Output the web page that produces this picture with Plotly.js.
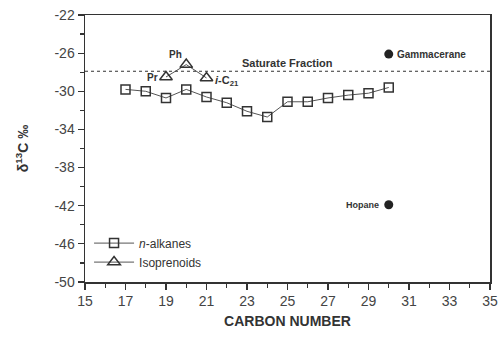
<!DOCTYPE html>
<html><head><meta charset="utf-8">
<script src="https://cdn.plot.ly/plotly-3.0.1.min.js"></script>
<style>html,body{margin:0;padding:0;background:#fff}#chart{width:500px;height:338px}</style>
</head><body><div id="chart"></div>
<script>
const alkaneC = [17,18,19,20,21,22,23,24,25,26,27,28,29,30];
const alkaneD = [-29.8,-30.0,-30.7,-29.8,-30.6,-31.2,-32.1,-32.7,-31.1,-31.1,-30.7,-30.4,-30.2,-29.6];
const isoC = [19,20,21];
const isoD = [-28.5,-27.2,-28.6];
const isoNames = ['Pr','Ph','<i>i</i>-C<sub>21</sub>'];
const bioC = [30,30];
const bioD = [-26.1,-41.9];
const bioNames = ['Gammacerane','Hopane'];
const saturateD = -27.9;
const xRange = [15,35];
const yRange = [-50,-22];
const yTickVals = [-50,-46,-42,-38,-34,-30,-26,-22];
const yTickText = ['-50','-46','-42','-38','-34','-30','-26','-22'];

const ink = '#333';
const font = {family:'Liberation Sans, Arial, sans-serif', color:ink};

const traces = [
 {x:alkaneC, y:alkaneD, name:'<i>n</i>-alkanes', mode:'lines+markers', type:'scatter',
  line:{color:'#555',width:1}, marker:{symbol:'square-open',size:9,color:ink,line:{width:1.5}}},
 {x:isoC, y:isoD, name:'Isoprenoids', mode:'lines+markers', type:'scatter',
  line:{color:'#555',width:1}, marker:{symbol:'triangle-up-open',size:11,color:ink,line:{width:1.5}}},
 {x:bioC, y:bioD, mode:'markers', type:'scatter', showlegend:false,
  marker:{symbol:'circle',size:9,color:'#222'}}
];

const ann = [];
ann.push({x:isoC[0], y:isoD[0], text:'<b>'+isoNames[0]+'</b>', showarrow:false, xanchor:'right', xshift:-6, yshift:-1, font:{...font,size:10}});
ann.push({x:isoC[1], y:isoD[1], text:'<b>'+isoNames[1]+'</b>', showarrow:false, xanchor:'right', xshift:-2, yshift:10, font:{...font,size:10}});
ann.push({x:isoC[2], y:isoD[2], text:'<b>'+isoNames[2]+'</b>', showarrow:false, xanchor:'left', xshift:6, yshift:-3, font:{...font,size:11}});
ann.push({x:bioC[0], y:bioD[0], text:'<b>'+bioNames[0]+'</b>', showarrow:false, xanchor:'left', xshift:6, font:{...font,size:10}});
ann.push({x:bioC[1], y:bioD[1], text:'<b>'+bioNames[1]+'</b>', showarrow:false, xanchor:'right', xshift:-8, font:{...font,size:9}});
ann.push({x:25, y:saturateD, text:'<b>Saturate Fraction</b>', showarrow:false, yanchor:'bottom', yshift:0, font:{...font,size:11}});

const layout = {
 width:500, height:338,
 margin:{l:85,r:10,t:15,b:56},
 paper_bgcolor:'#fff', plot_bgcolor:'#fff',
 showlegend:true,
 legend:{x:0.01, y:0.2, xanchor:'left', yanchor:'top', bgcolor:'rgba(0,0,0,0)', font:{...font,size:12}, itemwidth:40, tracegroupgap:0},
 xaxis:{range:xRange, dtick:2, tick0:15, ticks:'outside', ticklen:6, tickwidth:1.2, tickcolor:ink,
  showgrid:false, zeroline:false, showline:true, linecolor:ink, linewidth:1.5, mirror:true,
  minor:{dtick:1, ticks:'outside', ticklen:4, tickcolor:ink},
  tickfont:{...font,size:14, color:'#444'},
  title:{text:'<b>CARBON NUMBER</b>', font:{...font,size:14}, standoff:8}},
 yaxis:{range:yRange, tickmode:'array', tickvals:yTickVals, ticktext:yTickText, ticks:'outside', ticklen:6, tickwidth:1.2, tickcolor:ink,
  showgrid:false, zeroline:false, showline:true, linecolor:ink, linewidth:1.5, mirror:true,
  minor:{dtick:2, tick0:-50, ticks:'outside', ticklen:4, tickcolor:ink},
  tickfont:{...font,size:14, color:'#444'},
  title:{text:'<b>δ<sup>13</sup>C ‰</b>', font:{...font,size:14}, standoff:22}},
 shapes:[{type:'line', xref:'paper', x0:0, x1:1, yref:'y', y0:saturateD, y1:saturateD, line:{color:ink,width:1.2,dash:'dot'}}],
 annotations:ann
};
Plotly.newPlot('chart', traces, layout, {displayModeBar:false, staticPlot:true});
</script></body></html>
